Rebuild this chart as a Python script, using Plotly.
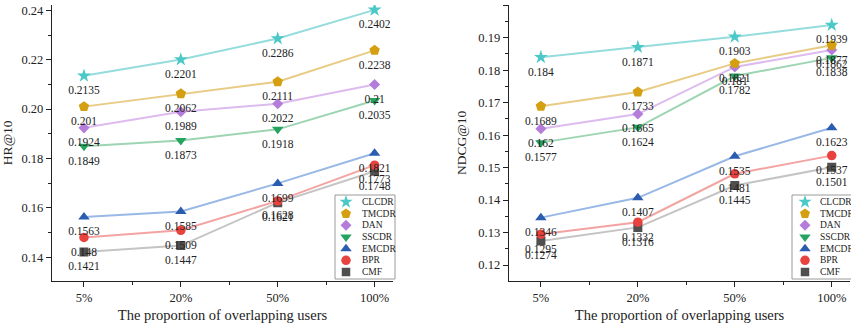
import plotly.graph_objects as go

# Proportion of overlapping users (x categories)
categories = ["5%", "20%", "50%", "100%"]
methods = ["CLCDR", "TMCDR", "DAN", "SSCDR", "EMCDR", "BPR", "CMF"]

# HR@10 per method
hr_clcdr = [0.2135, 0.2201, 0.2286, 0.2402]
hr_tmcdr = [0.201, 0.2062, 0.2111, 0.2238]
hr_dan = [0.1924, 0.1989, 0.2022, 0.21]
hr_sscdr = [0.1849, 0.1873, 0.1918, 0.2035]
hr_emcdr = [0.1563, 0.1585, 0.1699, 0.1821]
hr_bpr = [0.148, 0.1509, 0.1628, 0.1773]
hr_cmf = [0.1421, 0.1447, 0.1621, 0.1748]

# NDCG@10 per method
ndcg_clcdr = [0.184, 0.1871, 0.1903, 0.1939]
ndcg_tmcdr = [0.1689, 0.1733, 0.1821, 0.1877]
ndcg_dan = [0.162, 0.1665, 0.181, 0.1862]
ndcg_sscdr = [0.1577, 0.1624, 0.1782, 0.1838]
ndcg_emcdr = [0.1346, 0.1407, 0.1535, 0.1623]
ndcg_bpr = [0.1295, 0.1332, 0.1481, 0.1537]
ndcg_cmf = [0.1274, 0.1316, 0.1445, 0.1501]

hr_series = [hr_clcdr, hr_tmcdr, hr_dan, hr_sscdr, hr_emcdr, hr_bpr, hr_cmf]
ndcg_series = [ndcg_clcdr, ndcg_tmcdr, ndcg_dan, ndcg_sscdr, ndcg_emcdr, ndcg_bpr, ndcg_cmf]

marker_colors = ["#4CC8C8", "#D4A011", "#B47DDA", "#26A35F", "#2B5CB0", "#E8423F", "#4F4F4F"]
line_colors = ["#95DCDC", "#E8CB85", "#DDBBEE", "#9DD5B3", "#98B8E6", "#F4A3A3", "#C4C4C4"]
symbols = ["star", "pentagon", "diamond", "triangle-down", "triangle-up", "circle", "square"]
sizes = [10.5, 11, 8.5, 10, 10, 9.5, 9]
legend_sizes = [10, 10.5, 8.5, 10, 10, 9.5, 8.5]

FONT = "Liberation Serif"
INK = "#222222"
W, H = 851, 329
xs = list(range(len(categories)))

fig = go.Figure()

panels = [
    (hr_series, "x", "y"),
    (ndcg_series, "x2", "y2"),
]

for series, xa, ya in panels:
    # lower methods first so upper ones sit on top
    for i in reversed(range(len(methods))):
        fig.add_trace(go.Scatter(
            x=xs, y=series[i], mode="lines", xaxis=xa, yaxis=ya,
            line=dict(color=line_colors[i], width=2),
            showlegend=False, hoverinfo="skip",
        ))
    for i in reversed(range(len(methods))):
        fig.add_trace(go.Scatter(
            x=xs, y=series[i], mode="markers", xaxis=xa, yaxis=ya,
            name=methods[i],
            marker=dict(symbol=symbols[i], size=sizes[i], color=marker_colors[i],
                        opacity=1, line=dict(width=0)),
            showlegend=False,
        ))
    # value labels sit under each point, spaced by an invisible wider marker
    for i in reversed(range(len(methods))):
        vals = series[i]
        fig.add_trace(go.Scatter(
            x=xs, y=vals, mode="markers+text", xaxis=xa, yaxis=ya,
            marker=dict(size=14, opacity=0),
            text=[f"{v:g}" for v in vals], textposition="bottom center",
            textfont=dict(family=FONT, size=11.5, color=INK),
            showlegend=False, hoverinfo="skip",
        ))

# Inset legends: one hidden axis pair per panel, rows indexed by method
legend_boxes = [
    # axis ids, box (x0, x1, y0, y1) in pixels, marker column x, text column x
    ("x3", "y3", (335, 395, 195, 279), 346, 360),
    ("x4", "y4", (792, 860, 195, 279), 805, 818),
]
rows = list(range(len(methods)))
shapes = []
annotations = []
for xa, ya, (bx0, bx1, by0, by1), mx, tx in legend_boxes:
    shapes.append(dict(type="rect", xref="paper", yref="paper",
                       x0=bx0 / W, x1=bx1 / W, y0=1 - by1 / H, y1=1 - by0 / H,
                       line=dict(color="#9A9A9A", width=1),
                       fillcolor="rgba(0,0,0,0)", layer="above"))
    fig.add_trace(go.Scatter(
        x=[0] * len(methods), y=rows, mode="markers", xaxis=xa, yaxis=ya,
        marker=dict(symbol=symbols, size=legend_sizes, color=marker_colors,
                    opacity=1, line=dict(width=0)),
        showlegend=False, hoverinfo="skip", cliponaxis=False,
    ))
    for r, name in zip(rows, methods):
        annotations.append(dict(
            xref=xa, yref=ya, x=(tx - mx) / 60.0, y=r, text=name, showarrow=False,
            xanchor="left", yanchor="middle",
            font=dict(family=FONT, size=9.5, color=INK),
        ))

xaxis_common = dict(
    range=[-0.33, 3.19], tickmode="array", tickvals=xs, ticktext=categories,
    showline=True, linecolor=INK, linewidth=1.3, mirror=False,
    ticks="outside", ticklen=5, tickwidth=1.2, tickcolor=INK,
    minor=dict(tickvals=[0.5, 1.5, 2.5], ticks="outside", ticklen=3, tickcolor=INK),
    showgrid=False, zeroline=False,
    tickfont=dict(family=FONT, size=12.5, color=INK),
    title=dict(text="The proportion of overlapping users", standoff=6,
               font=dict(family=FONT, size=14.5, color=INK)),
)
yaxis_common = dict(
    showline=True, linecolor=INK, linewidth=1.3,
    ticks="outside", ticklen=5, tickwidth=1.2, tickcolor=INK,
    showgrid=False, zeroline=False, tick0=0, tickformat=".2f",
    tickfont=dict(family=FONT, size=12.5, color=INK),
)
hidden = dict(visible=False, showgrid=False, zeroline=False, fixedrange=True)


def inset_x(mx, x1):
    # marker column at x=0, 60 px per unit
    return dict(domain=[mx / W, min(x1 / W, 1.0)], range=[0, (min(x1, W) - mx) / 60.0], **hidden)


def inset_y(by0, by1):
    # rows 0..6 from top to bottom with half a row of padding
    return dict(domain=[1 - by1 / H, 1 - by0 / H], range=[6.6, -0.6], **hidden)


fig.update_layout(
    width=W, height=H,
    margin=dict(l=0, r=0, t=0, b=0, autoexpand=False),
    paper_bgcolor="white", plot_bgcolor="rgba(0,0,0,0)",
    font=dict(family=FONT, color=INK),
    showlegend=False,
    xaxis=dict(domain=[0.0611, 0.4618], anchor="y", **xaxis_common),
    xaxis2=dict(domain=[0.598, 0.999], anchor="y2", **xaxis_common),
    yaxis=dict(domain=[0.147, 0.985], anchor="x", range=[0.1305, 0.2422], dtick=0.02,
               minor=dict(dtick=0.01, tick0=0, ticks="outside", ticklen=3, tickcolor=INK),
               title=dict(text="HR@10", standoff=8, font=dict(family=FONT, size=13.5, color=INK)),
               **yaxis_common),
    yaxis2=dict(domain=[0.147, 0.985], anchor="x2", range=[0.1152, 0.2001], dtick=0.01,
                minor=dict(dtick=0.005, tick0=0, ticks="outside", ticklen=3, tickcolor=INK),
                title=dict(text="NDCG@10", standoff=8, font=dict(family=FONT, size=13.5, color=INK)),
                **yaxis_common),
    xaxis3=dict(anchor="y3", **inset_x(346, 395)),
    yaxis3=dict(anchor="x3", **inset_y(195, 279)),
    xaxis4=dict(anchor="y4", **inset_x(805, 860)),
    yaxis4=dict(anchor="x4", **inset_y(195, 279)),
    shapes=shapes,
    annotations=annotations,
)

fig.write_html("out.html")
